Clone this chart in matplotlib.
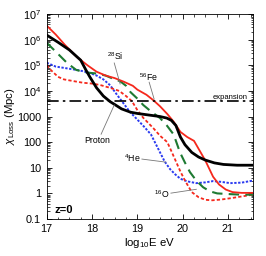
import numpy as np
import matplotlib
matplotlib.use("Agg")
import matplotlib.pyplot as plt
from matplotlib.ticker import LogLocator, FixedLocator, NullFormatter, MultipleLocator

plt.rcParams['font.family'] = ['Liberation Sans', 'DejaVu Sans']
plt.rcParams['mathtext.fontset'] = 'custom'
plt.rcParams['mathtext.rm'] = 'Liberation Sans'
plt.rcParams['mathtext.it'] = 'Liberation Sans:italic'

# ---- data: log10(E/eV) and log10(chi_loss / Mpc) ----
proton_E = [17.0, 17.25, 17.5, 17.75, 17.87, 17.95, 18.1, 18.25, 18.4, 18.5, 18.65, 18.85, 19.0,
            19.25, 19.5, 19.65, 19.75, 19.85, 19.95, 20.05, 20.2, 20.35, 20.5, 20.7, 20.9, 21.2, 21.55]
proton_L = [6.18, 5.9, 5.6, 5.2, 4.8, 4.55, 4.12, 3.8, 3.58, 3.47, 3.3, 3.17, 3.12,
            3.06, 3.0, 2.94, 2.85, 2.65, 2.2, 1.9, 1.6, 1.42, 1.3, 1.19, 1.13, 1.1, 1.1]

fe_E = [17.0, 17.2, 17.4, 17.5, 17.67, 17.9, 18.1, 18.3, 18.5, 18.7, 18.9, 19.0, 19.2, 19.35,
        19.5, 19.66, 19.8, 19.95, 20.1, 20.25, 20.38, 20.5, 20.67, 20.8, 20.95, 21.1, 21.3, 21.55]
fe_L = [6.55, 6.2, 5.8, 5.62, 5.32, 5.0, 4.75, 4.6, 4.5, 4.36, 4.2, 4.05, 3.85, 3.64,
        3.4, 3.1, 2.8, 2.4, 2.2, 2.05, 1.65, 1.28, 0.65, 0.35, 0.15, 0.05, 0.02, 0.02]

si_E = [17.0, 17.23, 17.45, 17.65, 17.87, 18.1, 18.3, 18.5, 18.62, 18.75, 18.85, 19.0, 19.13,
        19.3, 19.5, 19.65, 19.8, 19.94, 20.05, 20.16, 20.3, 20.45, 20.6, 20.76, 21.05, 21.3, 21.55]
si_L = [5.88, 5.48, 5.09, 4.82, 4.72, 4.68, 4.6, 4.45, 4.38, 4.2, 3.95, 3.7, 3.45,
        3.2, 2.94, 2.65, 2.3, 1.6, 1.2, 0.83, 0.5, 0.24, 0.08, 0.0, -0.03, -0.05, -0.05]

he_E = [17.0, 17.2, 17.45, 17.73, 17.95, 18.1, 18.25, 18.4, 18.55, 18.7, 18.84, 19.0, 19.15,
        19.3, 19.4, 19.5, 19.6, 19.72, 19.83, 19.95, 20.1, 20.3, 20.5, 20.67, 20.85, 21.05, 21.3, 21.55]
he_L = [5.1, 4.95, 4.88, 4.8, 4.7, 4.6, 4.45, 4.22, 3.85, 3.5, 3.17, 2.88, 2.6,
        2.3, 1.95, 1.6, 1.25, 0.95, 0.75, 0.57, 0.47, 0.4, 0.43, 0.48, 0.45, 0.4, 0.42, 0.5]

o_E = [17.0, 17.1, 17.25, 17.38, 17.6, 17.8, 18.04, 18.2, 18.4, 18.6, 18.75, 18.88, 19.0, 19.13,
       19.35, 19.5, 19.66, 19.75, 19.85, 19.95, 20.05, 20.2, 20.35, 20.5, 20.65, 20.85, 21.05, 21.3, 21.55]
o_L = [5.0, 4.8, 4.55, 4.45, 4.38, 4.32, 4.28, 4.22, 4.12, 4.0, 3.8, 3.6, 3.25, 2.95,
       2.55, 2.25, 2.0, 1.65, 1.25, 0.85, 0.5, 0.05, -0.15, -0.25, -0.27, -0.24, -0.19, -0.12, -0.05]

expansion_L = 3.6

ytick_vals = [0.1, 1, 10, 100, 1000, 1e4, 1e5, 1e6, 1e7]
ytick_labels = ['0.1', '1', '10', '100', '1000', r'$10^4$', r'$10^5$', r'$10^6$', r'$10^7$']
xtick_vals = [17, 18, 19, 20, 21]

fig = plt.figure(figsize=(2.66, 2.56), dpi=100)
ax = fig.add_axes([0.1756, 0.1445, 0.951 - 0.1756, 0.945 - 0.1445])

red = '#f5281c'
green = '#1e7a32'
blue = '#2a3af0'

def pw(v):
    return 10 ** np.asarray(v)

ax.plot(he_E, pw(he_L), color=blue, lw=1.4, ls=(0, (1.2, 0.8)))
ax.plot(o_E, pw(o_L), color=red, lw=1.3, ls=(0, (1.8, 1.2)))
ax.plot(si_E, pw(si_L), color=green, lw=1.5, ls=(0, (5, 3)))
ax.plot(fe_E, pw(fe_L), color=red, lw=1.3)
ax.plot(proton_E, pw(proton_L), color='black', lw=2.0)
ax.axhline(10 ** expansion_L, color='black', lw=1.2, ls=(0, (7, 2.5, 1.5, 2.5)))

ax.set_yscale('log')
ax.set_xlim(17, 21.55)
ax.set_ylim(0.1, 1e7)
ax.yaxis.set_major_locator(FixedLocator(ytick_vals))
ax.set_yticklabels(ytick_labels)
ax.yaxis.set_minor_locator(LogLocator(base=10, subs=np.arange(2, 10)))
ax.yaxis.set_minor_formatter(NullFormatter())
ax.set_xticks(xtick_vals)
ax.set_xticklabels([str(v) for v in xtick_vals])
ax.xaxis.set_minor_locator(MultipleLocator(0.25))
ax.tick_params(which='both', direction='in', top=True, right=True, labelsize=7.8)
ax.tick_params(axis='y', pad=4)
ax.tick_params(axis='x', pad=3.5)
ax.tick_params(which='major', length=3.5, width=0.6)
ax.tick_params(which='minor', length=1.8, width=0.5)
for s in ax.spines.values():
    s.set_linewidth(0.6)

ax.set_xlabel(r'log$_{10}$E eV', fontsize=8.2, labelpad=1.5)
ax.set_ylabel(r'$\chi_{\mathrm{Loss}}$ (Mpc)', fontsize=8.2, labelpad=0)

lc = '#777777'
fs = 6.3
def note(txt, tx, ty, x0, y0, x1, y1, ha='center'):
    ax.text(tx, 10 ** ty, txt, fontsize=fs, ha=ha, va='center')
    ax.plot([x0, x1], [10 ** y0, 10 ** y1], color=lc, lw=0.6)

note(r'$^{28}$Si', 18.51, 5.36, 18.49, 5.09, 18.62, 4.27)
note(r'$^{56}$Fe', 19.24, 4.54, 19.26, 4.34, 19.37, 3.68)
note('Proton', 18.11, 2.08, 18.2, 2.31, 18.49, 3.45)
note(r'$^{4}$He', 19.08, 1.375, 19.1, 1.34, 19.63, 1.22, ha='right')
note(r'$^{16}$O', 19.7, -0.03, 19.74, 0.01, 20.3, 0.16, ha='right')
ax.text(21.05, 10 ** 3.76, 'expansion', fontsize=5.5, ha='center', va='center')
ax.text(17.18, 10 ** -0.66, 'z=0', fontsize=8, fontweight='bold', ha='left', va='center')

fig.savefig('out.png', dpi=100)
